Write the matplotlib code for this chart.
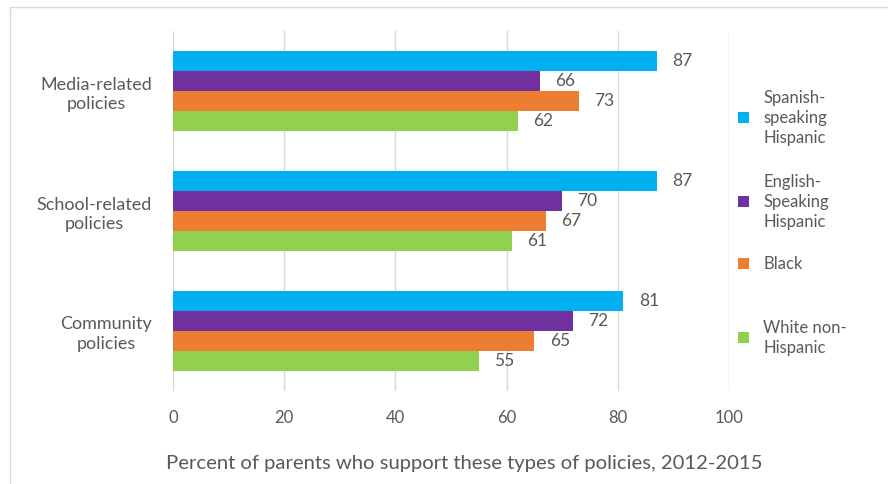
import matplotlib
matplotlib.use("Agg")
import matplotlib.pyplot as plt
from matplotlib.patches import Rectangle
import numpy as np

categories = ["Media-related\npolicies", "School-related\npolicies", "Community\npolicies"]
series_names = ["Spanish-\nspeaking\nHispanic", "English-\nSpeaking\nHispanic", "Black", "White non-\nHispanic"]
spanish = [87, 87, 81]
english = [66, 70, 72]
black = [73, 67, 65]
white = [62, 61, 55]
colors = ["#00B0F0", "#7030A0", "#ED7D31", "#92D050"]
xticks = [0, 20, 40, 60, 80, 100]
xlabel = "Percent of parents who support these types of policies, 2012-2015"

plt.rcParams['font.family'] = ['Lato', 'DejaVu Sans']
TC = "#595959"
FS = 12

W, H = 888, 484
fig = plt.figure(figsize=(W/100, H/100), dpi=100)
fig.patch.set_facecolor("white")
# outer chart frame
fig.add_artist(Rectangle((10/W, -0.05), 1.1, 1 - 7/H + 0.05, transform=fig.transFigure,
                         fill=False, edgecolor="#D9D9D9", linewidth=1.0))

ax = fig.add_axes([173/W, 1 - 391/H, (729-173)/W, (391-31)/H])
series = [spanish, english, black, white]
bh = 1/6
y = np.arange(len(categories))
for i, (vals, col, name) in enumerate(zip(series, colors, series_names)):
    pos = y - 2*bh + (i + 0.5)*bh
    bars = ax.barh(pos, vals, height=bh, color=col, label=name, zorder=3)
    ax.bar_label(bars, padding=11, fontsize=12.5, color=TC)

ax.set_ylim(2.5, -0.5)
ax.set_xlim(0, 100)
ax.set_xticks(xticks)
ax.set_yticks(y)
ax.set_yticklabels(categories, fontsize=13, color=TC, multialignment="center",
                   linespacing=1.3)
ax.tick_params(axis="y", length=0, pad=15)
ax.tick_params(axis="x", length=0, pad=14, labelsize=FS, labelcolor=TC)
ax.grid(axis="x", color="#D9D9D9", linewidth=1.0, zorder=0)
for s in ax.spines.values():
    s.set_visible(False)
ax.set_xlabel(xlabel, fontsize=14.6, color=TC, labelpad=0)
ax.xaxis.set_label_coords((464-173)/(729-173), -(463-391)/(391-31), transform=ax.transAxes)
ax.xaxis.label.set_va("center")

# legend (manually laid out, Excel style)
leg_y = [118, 202, 264, 338]
for name, col, yy in zip(series_names, colors, leg_y):
    fig.add_artist(Rectangle((738/W, 1 - (yy + 5)/H), 11/W, 11/H, transform=fig.transFigure,
                             facecolor=col, edgecolor="none"))
    fig.text(763/W, 1 - yy/H, name, fontsize=FS, color=TC, va="center", ha="left",
             linespacing=1.3)

fig.savefig("out.png", dpi=100, facecolor="white")
